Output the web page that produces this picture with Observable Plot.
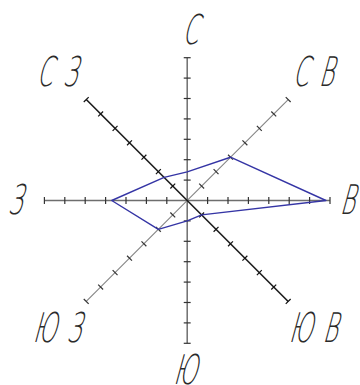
<!DOCTYPE html>
<html>
<head>
<meta charset="utf-8">
<script src="https://cdn.jsdelivr.net/npm/d3@7"></script>
<script src="https://cdn.jsdelivr.net/npm/@observablehq/plot@0.6"></script>
<style>
  html, body { margin: 0; padding: 0; background: #fff; }
  #chart { width: 360px; height: 385px; overflow: hidden; }
</style>
</head>
<body>
<div id="chart"></div>
<script>
// Wind rose directions (clockwise from north)
const directions = ["С", "СВ", "В", "ЮВ", "Ю", "ЮЗ", "З", "СЗ"];
const bearings = [0, 45, 90, 135, 180, 225, 270, 315];
// Wind frequency by direction
const frequencies = [1.4, 3, 6.8, 1, 1, 2, 3.7, 1.6];
// Axis tick values
const tickValues = [1, 2, 3, 4, 5, 6, 7];

const R = d3.max(tickValues);
const rad = b => b * Math.PI / 180;
const pt = (b, r) => [r * Math.sin(rad(b)), r * Math.cos(rad(b))];

// axis lines: N-S, NE-SW, E-W, SE-NW
const axisStroke = ["#6e6e6e", "#858585", "#6e6e6e", "#1a1a1a"];
const axisWidth = [1.5, 1.1, 1.5, 1.6];
const axes = bearings.slice(0, 4).map((b, i) => {
  const [x1, y1] = pt(b, R);
  const [x2, y2] = pt(b + 180, R);
  return {x1, y1, x2, y2, k: i};
});

const h = 0.17;
const ticks = [];
bearings.forEach((b, i) => {
  tickValues.forEach(t => {
    const [cx, cy] = pt(b, t);
    const px = Math.cos(rad(b)) * h, py = -Math.sin(rad(b)) * h;
    ticks.push({x1: cx - px, y1: cy - py, x2: cx + px, y2: cy + py, k: i % 4});
  });
});

const poly = directions.map((d, i) => {
  const [x, y] = pt(bearings[i], frequencies[i]);
  return {d, x, y};
});

// label placement: radius beyond the axis ends (layout only)
const labelRadius = b => b === 90 ? 7.95 : (b % 90 === 0 ? 8.33 : 8.88);
const labelShiftX = b => b === 0 ? 0.3 : 0.05;
const labels = directions.map((d, i) => {
  const [x, y] = pt(bearings[i], labelRadius(bearings[i]));
  return {d, x: x + labelShiftX(bearings[i]), y};
});

const chart = Plot.plot({
  width: 360,
  height: 385,
  margin: 0,
  x: {domain: [-9.152, 8.495], axis: null},
  y: {domain: [-9.069, 9.804], axis: null},
  marks: [
    Plot.link(axes.filter(a => a.k !== 3), {x1: "x1", y1: "y1", x2: "x2", y2: "y2",
      stroke: a => axisStroke[a.k], strokeWidth: a => axisWidth[a.k]}),
    Plot.link(axes.filter(a => a.k === 3), {x1: "x1", y1: "y1", x2: "x2", y2: "y2",
      stroke: axisStroke[3], strokeWidth: axisWidth[3]}),
    Plot.link(ticks, {x1: "x1", y1: "y1", x2: "x2", y2: "y2",
      stroke: d => d.k === 3 ? "#111" : "#333", strokeWidth: 1.2}),
    Plot.line(poly, {x: "x", y: "y", curve: "linear-closed", stroke: "#3535a5", strokeWidth: 1.4}),
    Plot.text(labels, {x: "x", y: "y", text: "d", fontSize: 41,
      fontFamily: "DejaVu Sans", fontWeight: 200, fill: "#2a2a2a"})
  ]
});

const ls = 19;
chart.querySelectorAll('g[aria-label="text"] text').forEach(t => {
  const tr = t.getAttribute("transform") || "";
  t.setAttribute("transform", tr + " skewX(-15) scale(0.55,1)");
  t.setAttribute("letter-spacing", ls);
  t.setAttribute("dx", ls / 2);
});
document.getElementById("chart").appendChild(chart);
</script>
</body>
</html>
